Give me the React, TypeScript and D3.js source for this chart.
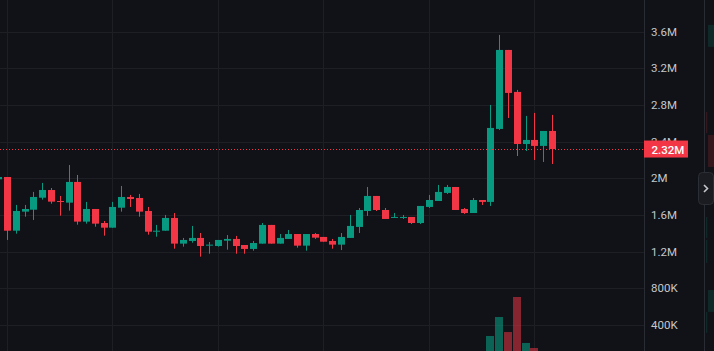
import { useEffect } from 'react';
import * as d3 from 'd3';

// OHLC in millions, first entry is the partly hidden candle at the left edge
const opens = [1.990, 2.015, 1.429, 1.637, 1.658, 1.789, 1.873, 1.753, 1.735, 1.961, 1.528, 1.666, 1.513, 1.462, 1.680, 1.797, 1.786, 1.644, 1.418, 1.429, 1.568, 1.288, 1.317, 1.350, 1.266, 1.262, 1.320, 1.339, 1.273, 1.230, 1.288, 1.492, 1.288, 1.339, 1.393, 1.266, 1.393, 1.361, 1.317, 1.277, 1.350, 1.470, 1.644, 1.808, 1.655, 1.571, 1.571, 1.579, 1.513, 1.688, 1.753, 1.841, 1.906, 1.666, 1.622, 1.764, 1.743, 2.539, 3.401, 2.943, 2.375, 2.419, 2.354, 2.517];
const highs = [2.030, 2.015, 1.710, 1.710, 1.852, 1.950, 1.895, 1.808, 2.146, 2.037, 1.743, 1.666, 1.535, 1.743, 1.917, 1.819, 1.830, 1.688, 1.492, 1.601, 1.622, 1.350, 1.481, 1.404, 1.306, 1.328, 1.382, 1.372, 1.273, 1.317, 1.513, 1.492, 1.393, 1.437, 1.393, 1.393, 1.404, 1.361, 1.339, 1.404, 1.601, 1.677, 1.906, 1.808, 1.677, 1.622, 1.601, 1.579, 1.699, 1.819, 1.928, 1.928, 1.906, 1.677, 1.786, 1.764, 2.801, 3.565, 3.401, 2.965, 2.681, 2.714, 2.517, 2.692];
const lows = [1.980, 1.328, 1.397, 1.582, 1.546, 1.768, 1.724, 1.593, 1.648, 1.495, 1.506, 1.473, 1.375, 1.462, 1.637, 1.688, 1.582, 1.386, 1.364, 1.429, 1.233, 1.255, 1.298, 1.146, 1.178, 1.255, 1.222, 1.178, 1.178, 1.211, 1.288, 1.288, 1.288, 1.339, 1.244, 1.211, 1.339, 1.309, 1.233, 1.218, 1.350, 1.404, 1.590, 1.644, 1.557, 1.571, 1.557, 1.502, 1.502, 1.677, 1.753, 1.830, 1.655, 1.612, 1.622, 1.710, 1.699, 2.528, 2.659, 2.244, 2.299, 2.201, 2.179, 2.157];
const closes = [2.015, 1.429, 1.644, 1.666, 1.797, 1.873, 1.746, 1.743, 1.961, 1.528, 1.666, 1.506, 1.462, 1.688, 1.797, 1.775, 1.637, 1.418, 1.429, 1.568, 1.288, 1.328, 1.350, 1.262, 1.277, 1.328, 1.339, 1.262, 1.230, 1.295, 1.492, 1.288, 1.350, 1.393, 1.266, 1.393, 1.353, 1.309, 1.277, 1.361, 1.481, 1.655, 1.808, 1.655, 1.557, 1.579, 1.579, 1.513, 1.699, 1.764, 1.852, 1.906, 1.655, 1.622, 1.764, 1.743, 2.550, 3.401, 2.932, 2.375, 2.419, 2.354, 2.517, 2.320];
// volume in thousands
const volumes = [150, 240, 160, 110, 130, 120, 100, 90, 220, 200, 120, 110, 90, 140, 130, 80, 100, 150, 70, 110, 180, 90, 100, 130, 70, 80, 60, 90, 70, 80, 170, 160, 90, 80, 100, 110, 60, 70, 90, 100, 130, 150, 190, 140, 120, 60, 50, 90, 130, 120, 140, 110, 160, 80, 110, 60, 480, 733, 533, 1000, 387, 320, 200, 150];

const priceTicks = [0.4, 0.8, 1.2, 1.6, 2.0, 2.4, 2.8, 3.2, 3.6];
const priceTickLabels = ['400K', '800K', '1.2M', '1.6M', '2M', '2.4M', '2.8M', '3.2M', '3.6M'];
const lastPrice = 2.32;
const lastPriceLabel = '2.32M';

// faint marks of the neighbouring pane on the far right (top, bottom in millions)
const sideKinds = ['body', 'wick', 'body', 'wick', 'wick', 'body', 'wick'];
const sideTops = [3.674, 2.723, 2.473, 1.579, 1.328, 0.783, 0.543];
const sideBottoms = [3.434, 2.494, 2.124, 1.350, 1.077, 0.543, 0.314];
const sideUp = [true, false, false, true, true, true, true];

const W = 714;
const H = 351;
const PLOT_R = 644;
const AXIS_R = 704;
const BG = '#111217';
const GRID = '#1d1f25';
const UP = '#089981';
const DOWN = '#f23645';

export default function App() {
  useEffect(() => {
    document.body.style.margin = '0';
    document.body.style.background = BG;
  }, []);

  const x = d3.scaleLinear().domain([1, 63]).range([7.5, 552.5]);
  const y = d3.scaleLinear().domain([0, 3.6]).range([361.7, 31.7]);
  const vol = d3.scaleLinear().domain([0, 1000]).range([0, 75]);
  const volBase = 372;

  const idx = d3.range(opens.length);
  const gridIdx = d3.range(1, 64, 12);
  const crisp = (v: number) => Math.round(v) + 0.5;

  return (
    <svg width={W} height={H} style={{ display: 'block', background: BG }}>
      <rect x={0} y={0} width={W} height={H} fill={BG} />

      {/* grid */}
      {priceTicks.map(t => (
        <line key={'h' + t} x1={0} x2={PLOT_R} y1={crisp(y(t))} y2={crisp(y(t))} stroke={GRID} />
      ))}
      {gridIdx.map(i => (
        <line key={'v' + i} x1={Math.floor(x(i)) + 0.5} x2={Math.floor(x(i)) + 0.5} y1={0} y2={H} stroke={GRID} />
      ))}

      {/* volume */}
      {idx.map(i => {
        const cx = x(i);
        const h = vol(volumes[i]);
        return (
          <rect
            key={'vol' + i}
            x={Math.round(cx - 4.5)}
            y={volBase - h}
            width={8}
            height={h}
            fill={closes[i] >= opens[i] ? UP : DOWN}
            opacity={closes[i] >= opens[i] ? 0.6 : 0.52}
          />
        );
      })}

      {/* candles */}
      {idx.map(i => {
        const cx = x(i);
        const up = closes[i] >= opens[i];
        const c = up ? UP : DOWN;
        const top = y(Math.max(opens[i], closes[i]));
        const bot = y(Math.min(opens[i], closes[i]));
        const wx = Math.floor(cx) + 0.5;
        return (
          <g key={'c' + i}>
            <line x1={wx} x2={wx} y1={y(highs[i])} y2={y(lows[i])} stroke={c} strokeWidth={1} />
            <rect x={Math.round(cx - 3.5)} y={top} width={7} height={Math.max(1, bot - top)} fill={c} />
          </g>
        );
      })}

      {/* last price line */}
      <line x1={0} x2={PLOT_R} y1={crisp(y(lastPrice))} y2={crisp(y(lastPrice))} stroke={DOWN} strokeDasharray="1,2" />

      {/* price axis */}
      <rect x={PLOT_R} y={0} width={AXIS_R - PLOT_R} height={H} fill={BG} />
      <line x1={PLOT_R + 0.5} x2={PLOT_R + 0.5} y1={0} y2={H} stroke="#2a2c33" />
      <line x1={AXIS_R + 0.5} x2={AXIS_R + 0.5} y1={0} y2={H} stroke="#2a2c33" />
      {priceTicks.map((t, k) => (
        <text
          key={'t' + t}
          x={651}
          y={y(t) + 4}
          fill="#c5c7cc"
          fontSize={11.5}
          fontFamily="Roboto, 'Liberation Sans', Arial, sans-serif"
        >
          {priceTickLabels[k]}
        </text>
      ))}
      <rect x={PLOT_R} y={y(lastPrice) - 8.5} width={44} height={17} fill={DOWN} />
      <text
        x={651.5}
        y={y(lastPrice) + 4.5}
        fill="#ffffff"
        fontSize={11.5}
        fontWeight={500}
        fontFamily="Roboto, 'Liberation Sans', Arial, sans-serif"
      >
        {lastPriceLabel}
      </text>

      {/* neighbouring pane */}
      {sideKinds.map((k, i) => (
        <rect
          key={'s' + i}
          x={k === 'wick' ? 706 : 708}
          y={y(sideTops[i])}
          width={k === 'wick' ? 1.3 : 6}
          height={y(sideBottoms[i]) - y(sideTops[i])}
          fill={sideUp[i] ? UP : DOWN}
          opacity={0.16}
        />
      ))}

      {/* collapse button */}
      <rect x={698.5} y={172.5} width={15} height={32} rx={4} fill="#1b1c21" stroke="#2c2e35" />
      <path d="M704,185 L707.5,188.5 L704,192" fill="none" stroke="#c5c7cc" strokeWidth={1.6} />
    </svg>
  );
}
